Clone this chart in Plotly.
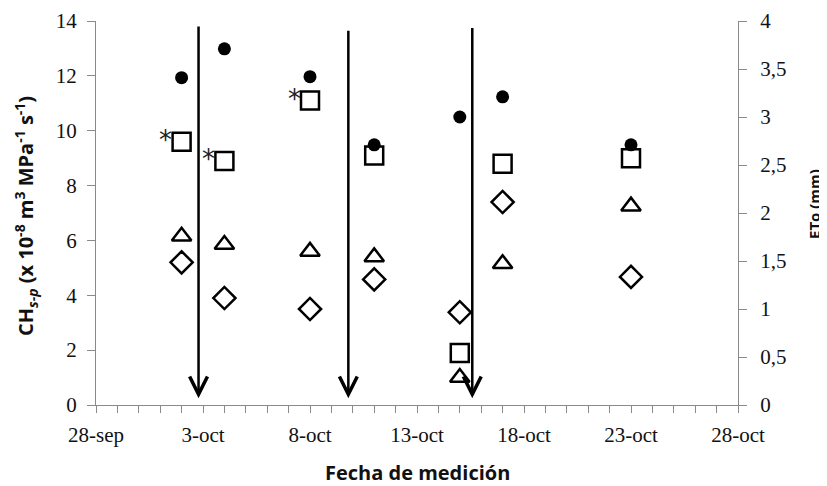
import plotly.graph_objects as go

# ---- data ----
dates = ["2010-10-02", "2010-10-04", "2010-10-08", "2010-10-11",
         "2010-10-15", "2010-10-17", "2010-10-23"]
eto_mm = [3.41, 3.71, 3.42, 2.71, 3.00, 3.21, 2.71]          # filled circles (right axis)
ch_square = [9.6, 8.9, 11.1, 9.1, 1.9, 8.8, 9.0]               # open squares
ch_triangle = [6.15, 5.85, 5.6, 5.4, 1.0, 5.15, 7.25]          # open triangles
ch_diamond = [5.2, 3.9, 3.5, 4.58, 3.38, 7.4, 4.67]            # open diamonds
square_signif = [True, True, True, False, False, False, False]  # asterisks
arrow_dates = ["2010-10-02 19:00", "2010-10-09 19:00", "2010-10-15 14:00"]
arrow_top = [13.85, 13.7, 13.8]
arrow_tip = 0.25

xtick_vals = ["2010-09-28", "2010-10-03", "2010-10-08", "2010-10-13",
              "2010-10-18", "2010-10-23", "2010-10-28"]
xtick_text = ["28-sep", "3-oct", "8-oct", "13-oct", "18-oct", "23-oct", "28-oct"]
y_ticks = [0, 2, 4, 6, 8, 10, 12, 14]
y2_ticks = [0, 0.5, 1, 1.5, 2, 2.5, 3, 3.5, 4]
y2_text = ["0", "0,5", "1", "1,5", "2", "2,5", "3", "3,5", "4"]

TICKFONT = dict(family="Liberation Serif", size=21, color="#111")
AXCOL = "#8a8a8a"

fig = go.Figure()

fig.add_trace(go.Scatter(x=dates, y=eto_mm, mode="markers", yaxis="y2",
                         marker=dict(symbol="circle", size=13, color="black"),
                         name="ETo"))
fig.add_trace(go.Scatter(x=dates, y=ch_square, mode="markers",
                         marker=dict(symbol="square-open", size=18, color="black",
                                     line=dict(width=2.5, color="black")),
                         name="square"))
fig.add_trace(go.Scatter(x=dates, y=ch_triangle, mode="markers",
                         marker=dict(symbol="triangle-up-open", size=17, color="black",
                                     line=dict(width=2.5, color="black")),
                         name="triangle"))
fig.add_trace(go.Scatter(x=dates, y=ch_diamond, mode="markers",
                         marker=dict(symbol="diamond-open", size=17, color="black",
                                     line=dict(width=2.5, color="black")),
                         name="diamond"))

annotations = []
for d, v, s in zip(dates, ch_square, square_signif):
    if s:
        annotations.append(dict(x=d, y=v, xref="x", yref="y", text="*",
                                showarrow=False, xshift=-16, yshift=2,
                                font=dict(family="DejaVu Sans", size=26, color="#222")))
for d, top in zip(arrow_dates, arrow_top):
    annotations.append(dict(x=d, y=arrow_tip, xref="x", yref="y",
                            ax=d, ay=top, axref="x", ayref="y",
                            text="", showarrow=True, arrowhead=5, arrowsize=1.4,
                            arrowwidth=2.5, arrowcolor="black", standoff=0))

# axis titles
annotations.append(dict(
    text="CH<sub><i>s-p</i></sub> (x 10<sup>-8</sup> m<sup>3</sup> MPa<sup>-1</sup> s<sup>-1</sup>)",
    xref="paper", yref="paper", x=0, y=0.5, xanchor="center", yanchor="middle",
    xshift=-70, yshift=-3, textangle=-90, showarrow=False,
    font=dict(family="Open Sans", size=20, color="#111", weight="bold")))
annotations.append(dict(
    text="ETo (mm)", xref="paper", yref="paper", x=1, y=0.5,
    xanchor="center", yanchor="middle", xshift=76, yshift=9, textangle=-90,
    showarrow=False, font=dict(family="Open Sans", size=15, color="#111", weight="bold")))
annotations.append(dict(
    text="Fecha de medición", xref="paper", yref="paper", x=0.5, y=0,
    xanchor="center", yanchor="middle", yshift=-67, showarrow=False,
    font=dict(family="Open Sans", size=20, color="#111", weight="bold")))

fig.update_layout(
    width=827, height=486,
    margin=dict(l=88, r=97, t=13, b=89, autoexpand=False),
    paper_bgcolor="white", plot_bgcolor="white",
    showlegend=False,
    annotations=annotations,
    xaxis=dict(type="date", range=["2010-09-28", "2010-10-28"],
               tickvals=xtick_vals, ticktext=xtick_text,
               ticks="outside", ticklen=7, tickcolor=AXCOL, tickwidth=1,
               minor=dict(dtick=86400000, ticks="outside", ticklen=7,
                          tickcolor=AXCOL, tickwidth=1),
               showline=True, linecolor=AXCOL, linewidth=1,
               showgrid=False, zeroline=False, tickfont=TICKFONT,
               ticklabelstandoff=4, automargin=False),
    yaxis=dict(range=[0, 14], tickvals=y_ticks,
               ticks="outside", ticklen=8, tickcolor=AXCOL,
               showline=True, linecolor=AXCOL, linewidth=1,
               showgrid=False, zeroline=False, tickfont=TICKFONT,
               ticklabelstandoff=6, ticklabeloverflow="allow", automargin=False),
    yaxis2=dict(range=[0, 4], tickvals=y2_ticks, ticktext=y2_text,
                overlaying="y", side="right",
                ticks="outside", ticklen=8, tickcolor=AXCOL,
                showline=True, linecolor=AXCOL, linewidth=1,
                showgrid=False, zeroline=False, tickfont=TICKFONT,
                ticklabelstandoff=9, ticklabeloverflow="allow", automargin=False),
)

fig.write_html("out.html")
